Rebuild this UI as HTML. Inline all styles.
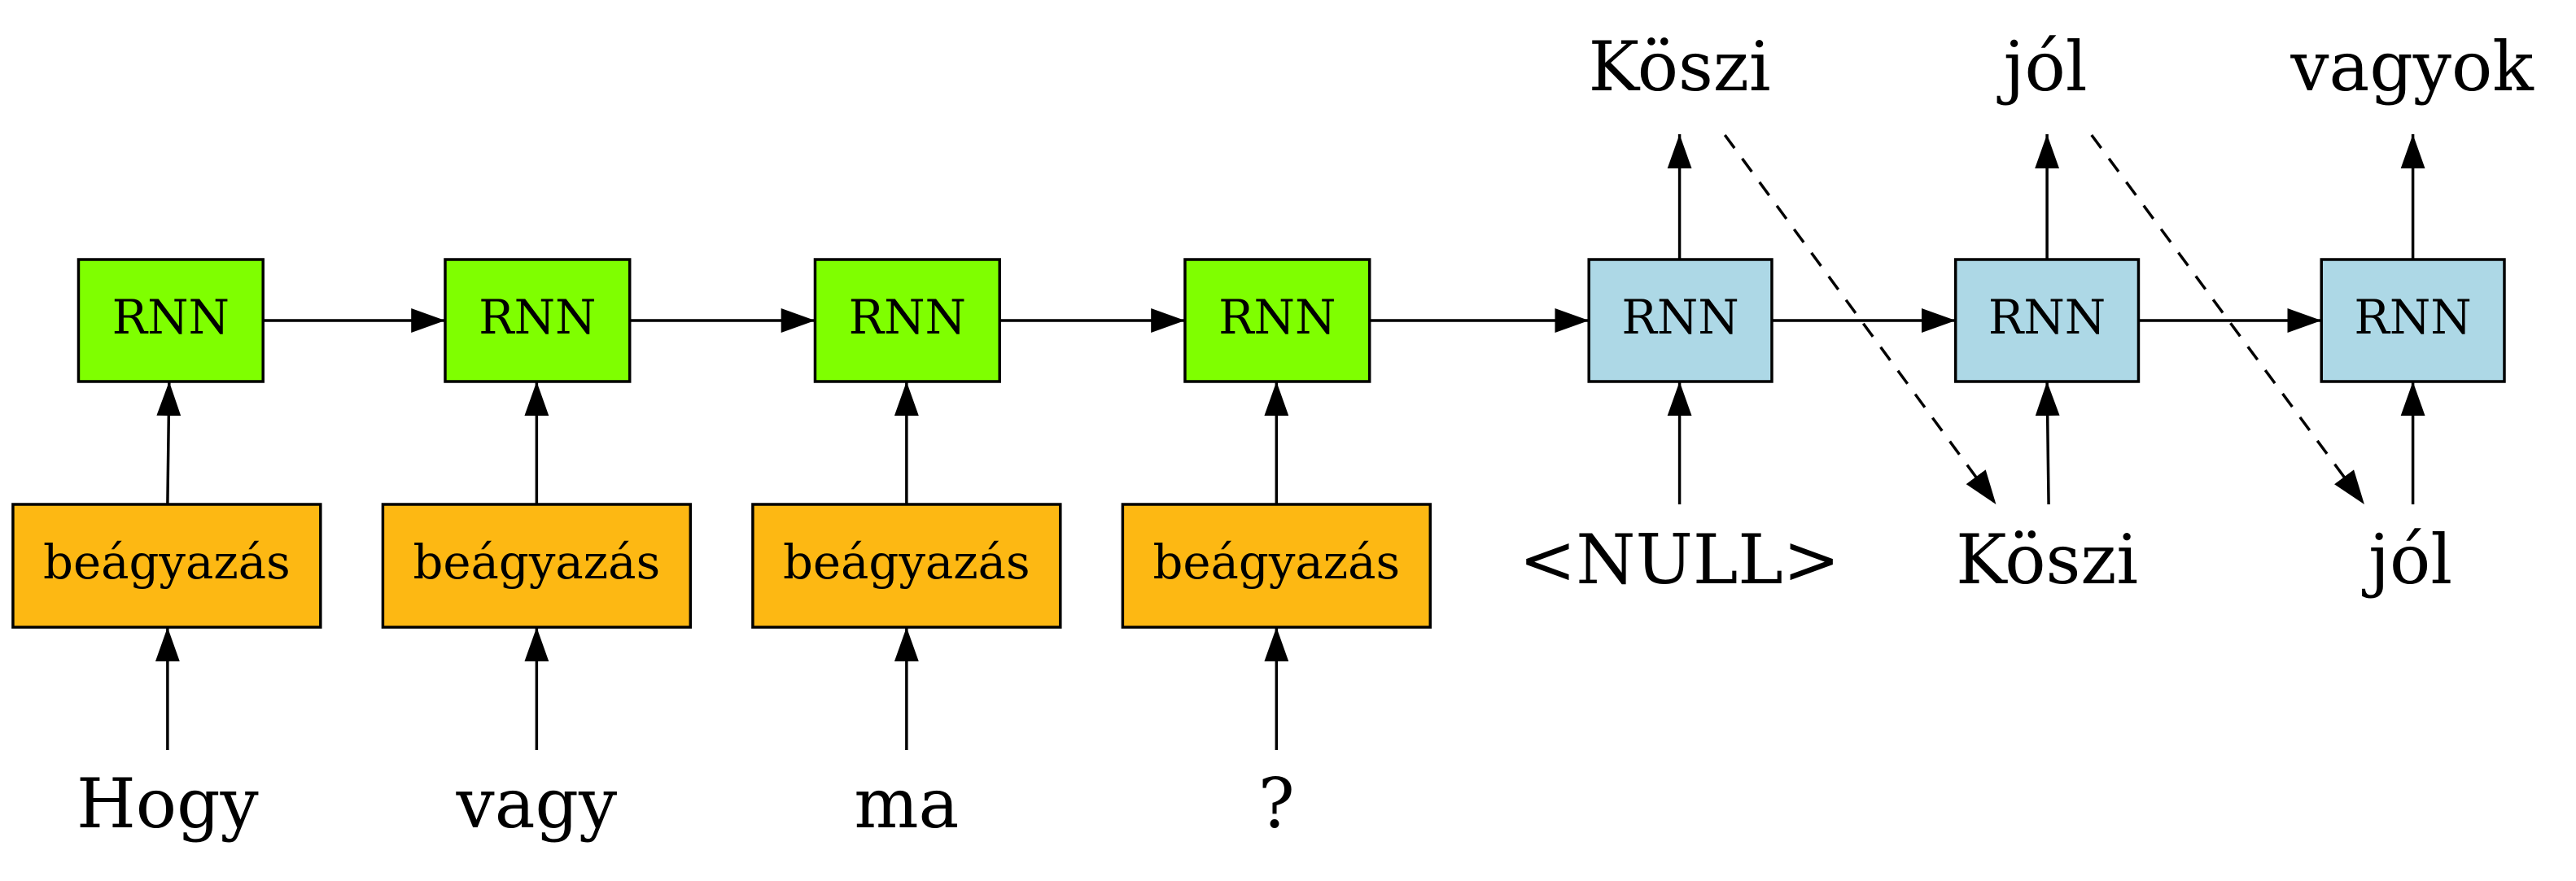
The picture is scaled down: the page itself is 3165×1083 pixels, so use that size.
<html><head><style>body{margin:0;background:#fff}svg text{font-family:"DejaVu Serif","Liberation Serif",serif;text-anchor:middle;dominant-baseline:central}</style></head><body>
<svg width="3165" height="1083" viewBox="0 0 3165 1083" xmlns="http://www.w3.org/2000/svg">
<defs><marker id="h" markerWidth="42" markerHeight="30" refX="42" refY="15" orient="auto" markerUnits="userSpaceOnUse"><path d="M0,0 L42,15 L0,30 z" fill="#000"/></marker></defs>
<g transform="scale(0.9945,1)">
<g stroke="#000" stroke-width="3.5">
<rect x="97" y="319" width="228" height="150" fill="#7fff00"/>
<rect x="550" y="319" width="228" height="150" fill="#7fff00"/>
<rect x="1007" y="319" width="228" height="150" fill="#7fff00"/>
<rect x="1464" y="319" width="228" height="150" fill="#7fff00"/>
<rect x="1963" y="319" width="226" height="150" fill="#add8e6"/>
<rect x="2416" y="319" width="226" height="150" fill="#add8e6"/>
<rect x="2868" y="319" width="226" height="150" fill="#add8e6"/>
<rect x="16" y="620" width="380" height="151" fill="#fdb813"/>
<rect x="473" y="620" width="380" height="151" fill="#fdb813"/>
<rect x="930" y="620" width="380" height="151" fill="#fdb813"/>
<rect x="1387" y="620" width="380" height="151" fill="#fdb813"/>
</g>
<g stroke="#000" stroke-width="3.5" fill="none" marker-end="url(#h)">
<line x1="325" y1="394" x2="550" y2="394"/>
<line x1="778" y1="394" x2="1007" y2="394"/>
<line x1="1235" y1="394" x2="1464" y2="394"/>
<line x1="1692" y1="394" x2="1963" y2="394"/>
<line x1="2189" y1="394" x2="2416" y2="394"/>
<line x1="2642" y1="394" x2="2868" y2="394"/>
<line x1="207" y1="620" x2="209" y2="469"/>
<line x1="663" y1="620" x2="663" y2="469"/>
<line x1="1120" y1="620" x2="1120" y2="469"/>
<line x1="1577" y1="620" x2="1577" y2="469"/>
<line x1="207" y1="922" x2="207" y2="771"/>
<line x1="663" y1="922" x2="663" y2="771"/>
<line x1="1120" y1="922" x2="1120" y2="771"/>
<line x1="1577" y1="922" x2="1577" y2="771"/>
<line x1="2075" y1="319" x2="2075" y2="165"/>
<line x1="2529" y1="319" x2="2529" y2="165"/>
<line x1="2981" y1="319" x2="2981" y2="165"/>
<line x1="2075" y1="620" x2="2075" y2="469"/>
<line x1="2531" y1="620" x2="2529" y2="469"/>
<line x1="2981" y1="620" x2="2981" y2="469"/>
<line x1="2131" y1="166" x2="2466" y2="620" stroke-dasharray="20,16"/>
<line x1="2584" y1="166" x2="2921" y2="620" stroke-dasharray="20,16"/>
</g>
<g font-size="58">
<text x="211" y="390">RNN</text><text x="664" y="390">RNN</text><text x="1121" y="390">RNN</text><text x="1578" y="390">RNN</text>
<text x="2076" y="390">RNN</text><text x="2529" y="390">RNN</text><text x="2981" y="390">RNN</text>
<text x="206" y="691">beágyazás</text><text x="663" y="691">beágyazás</text><text x="1120" y="691">beágyazás</text><text x="1577" y="691">beágyazás</text>
</g>
<g font-size="84">
<text x="207" y="988">Hogy</text><text x="663" y="988">vagy</text><text x="1120" y="988">ma</text><text x="1577" y="988">?</text>
<text x="2075" y="82">Köszi</text><text x="2527" y="82">jól</text><text x="2980" y="82">vagyok</text>
<text x="2075" y="688">&lt;NULL&gt;</text><text x="2529" y="688">Köszi</text><text x="2978" y="688">jól</text>
</g>
</g>
</svg></body></html>
